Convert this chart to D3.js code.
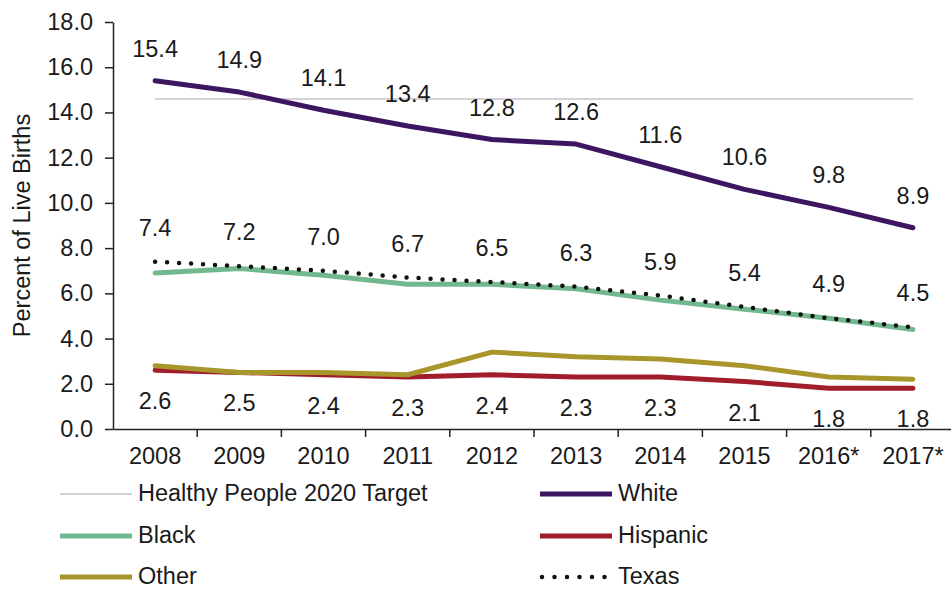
<!DOCTYPE html>
<html>
<head>
<meta charset="utf-8">
<script src="https://cdn.jsdelivr.net/npm/d3@7"></script>
<style>
  html, body { margin: 0; padding: 0; background: #fff; }
  svg { display: block; font-family: "Liberation Sans", Arial, sans-serif; }
</style>
</head>
<body>
<svg id="chart" width="951" height="589"></svg>
<script>
const years = ["2008", "2009", "2010", "2011", "2012", "2013", "2014", "2015", "2016*", "2017*"];
const white = [15.4, 14.9, 14.1, 13.4, 12.8, 12.6, 11.6, 10.6, 9.8, 8.9];
const black = [6.9, 7.1, 6.8, 6.4, 6.4, 6.2, 5.7, 5.3, 4.9, 4.4];
const hispanic = [2.6, 2.5, 2.4, 2.3, 2.4, 2.3, 2.3, 2.1, 1.8, 1.8];
const other = [2.8, 2.5, 2.5, 2.4, 3.4, 3.2, 3.1, 2.8, 2.3, 2.2];
const texas = [7.4, 7.2, 7.0, 6.7, 6.5, 6.3, 5.9, 5.4, 4.9, 4.5];
const target = 14.6;
const yTicks = [0, 2, 4, 6, 8, 10, 12, 14, 16, 18];
const yTitle = "Percent of Live Births";

(function () {
const svg = d3.select("#chart");
const mLeft = 113, mRight = 955, mTop = 22, mBottom = 429;
const FS = 23.5;

const x = d3.scaleBand().domain(years).range([mLeft, mRight]).paddingInner(0).paddingOuter(0);
const y = d3.scaleLinear().domain([0, 18]).range([mBottom, mTop]);
const cx = d => x(d) + x.bandwidth() / 2;

// Axes
const yAxis = d3.axisLeft(y).tickValues(yTicks).tickFormat(d3.format(".1f")).tickSize(8).tickPadding(12).tickSizeOuter(0);
const gy = svg.append("g").attr("transform", `translate(${mLeft},0)`).call(yAxis);
gy.selectAll("text").attr("font-size", FS).attr("fill", "#1a1a1a").attr("font-family", "Liberation Sans, Arial, sans-serif");
gy.select(".domain").attr("stroke", "#222").attr("stroke-width", 1.5);
gy.selectAll(".tick line").attr("stroke", "#222").attr("stroke-width", 1.5);

const xAxis = d3.axisBottom(x).tickSize(0).tickPadding(18).tickSizeOuter(0);
const gx = svg.append("g").attr("transform", `translate(0,${mBottom})`).call(xAxis);
gx.selectAll("text").attr("font-size", FS).attr("fill", "#1a1a1a").attr("font-family", "Liberation Sans, Arial, sans-serif");
gx.select(".domain").attr("stroke", "#222").attr("stroke-width", 1.5);
gx.selectAll(".bnd").data(years.slice(1)).enter().append("line")
  .attr("x1", d => x(d)).attr("x2", d => x(d)).attr("y1", 0).attr("y2", 8)
  .attr("stroke", "#222").attr("stroke-width", 1.5);

svg.append("text")
  .attr("transform", `translate(30,${(mTop + mBottom) / 2}) rotate(-90)`)
  .attr("text-anchor", "middle").attr("font-size", FS).attr("fill", "#1a1a1a")
  .text(yTitle);

// Target line
svg.append("line")
  .attr("x1", cx(years[0])).attr("x2", cx(years[years.length - 1]))
  .attr("y1", y(target)).attr("y2", y(target))
  .attr("stroke", "#c6bfcc").attr("stroke-width", 1.5);

const line = d3.line().x((d, i) => cx(years[i])).y(d => y(d));

const series = [
  { name: "Hispanic", data: hispanic, color: "#a11d2c", width: 5 },
  { name: "Other", data: other, color: "#a8962b", width: 5 },
  { name: "Black", data: black, color: "#72b88e", width: 5 },
  { name: "White", data: white, color: "#3c1660", width: 5 },
];
series.forEach(s => {
  svg.append("path").datum(s.data).attr("d", line)
    .attr("fill", "none").attr("stroke", s.color).attr("stroke-width", s.width)
    .attr("stroke-linejoin", "round").attr("stroke-linecap", "round");
});
svg.append("path").datum(texas).attr("d", line)
  .attr("fill", "none").attr("stroke", "#111").attr("stroke-width", 4.5)
  .attr("stroke-dasharray", "0,12").attr("stroke-linecap", "round");

// Data labels
const lab = (data, dy) => {
  svg.append("g").selectAll("text").data(data).enter().append("text")
    .attr("x", (d, i) => cx(years[i])).attr("y", d => y(d) + dy)
    .attr("text-anchor", "middle").attr("font-size", FS).attr("fill", "#1a1a1a")
    .text(d => d3.format(".1f")(d));
};
lab(white, -24);
lab(texas, -26);
lab(hispanic, 39);

// Legend
const legend = [
  { name: "Healthy People 2020 Target", color: "#c6bfcc", width: 1.5, x: 60, y: 494 },
  { name: "White", color: "#3c1660", width: 5, x: 540, y: 494 },
  { name: "Black", color: "#72b88e", width: 5, x: 60, y: 536 },
  { name: "Hispanic", color: "#a11d2c", width: 5, x: 540, y: 536 },
  { name: "Other", color: "#a8962b", width: 5, x: 60, y: 577 },
  { name: "Texas", color: "#111", width: 4.5, x: 540, y: 577, dash: true },
];
const lg = svg.append("g").selectAll("g").data(legend).enter().append("g");
lg.append("line")
  .attr("x1", d => d.x + (d.dash ? 2 : 0)).attr("x2", d => d.x + 72)
  .attr("y1", d => d.y).attr("y2", d => d.y)
  .attr("stroke", d => d.color).attr("stroke-width", d => d.width)
  .attr("stroke-dasharray", d => d.dash ? "0,12.5" : null)
  .attr("stroke-linecap", d => d.dash ? "round" : "butt");
lg.append("text")
  .attr("x", d => d.x + 78).attr("y", d => d.y + 7)
  .attr("font-size", FS).attr("fill", "#1a1a1a")
  .text(d => d.name);
})();
</script>
</body>
</html>
